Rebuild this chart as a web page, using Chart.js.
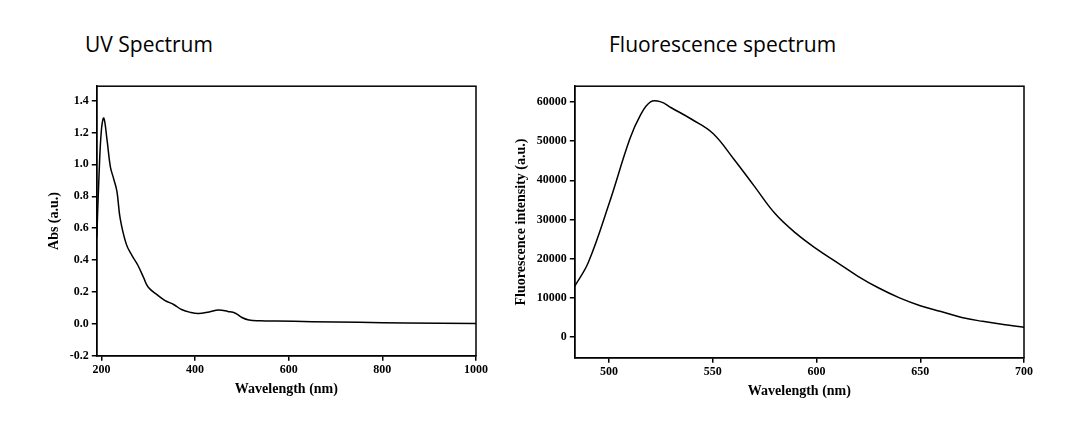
<html>
<head>
<script src="https://cdn.jsdelivr.net/npm/chart.js"></script>
<style>
body { margin:0; background:#fff; width:1089px; height:442px; position:relative; overflow:hidden; }
.t { position:absolute; font-family:"Open Sans", sans-serif; font-size:21px; color:#000; }
.c { position:absolute; }
</style>
</head>
<body>
<div class="t" style="left:85px;top:30px">UV Spectrum</div>
<div class="t" style="left:609px;top:30px">Fluorescence spectrum</div>
<div class="c" style="left:30px;top:76px;width:460px;height:340px"><canvas id="uv"></canvas></div>
<div class="c" style="left:505px;top:76px;width:530px;height:340px"><canvas id="fl"></canvas></div>
<script>
var uvWave = [190, 195, 200, 205, 212, 219, 226, 233, 240, 253, 265, 278, 290, 300, 320, 335, 355, 371, 390, 407, 430, 450, 470, 486, 500, 515, 540, 573, 650, 750, 850, 1000];
var uvAbs  = [0.54, 0.95, 1.22, 1.29, 1.15, 0.985, 0.91, 0.83, 0.66, 0.50, 0.43, 0.366, 0.29, 0.23, 0.18, 0.148, 0.12, 0.09, 0.072, 0.065, 0.075, 0.087, 0.078, 0.067, 0.04, 0.024, 0.02, 0.018, 0.014, 0.01, 0.006, 0.003];
var uvTicksX = [200, 400, 600, 800, 1000];
var uvTicksY = [-0.2, 0.0, 0.2, 0.4, 0.6, 0.8, 1.0, 1.2, 1.4];

var flWave = [483.5, 490, 500, 510, 515, 520, 525, 530, 540, 550, 560, 570, 580, 590, 600, 610, 620, 630, 640, 650, 660, 670, 680, 690, 700];
var flInt  = [13000, 19000, 34000, 50500, 56500, 60000, 60000, 58500, 55500, 52000, 45500, 38500, 31500, 26500, 22500, 19000, 15500, 12500, 10000, 8000, 6500, 5000, 4000, 3200, 2500];
var flTicksX = [500, 550, 600, 650, 700];
var flTicksY = [0, 10000, 20000, 30000, 40000, 50000, 60000];

var serif = { family: "'Liberation Serif', 'Times New Roman', serif", weight: 'bold', size: 12 };
var boxPlugin = {
    id: 'box',
    afterDraw: function(chart) {
        var a = chart.chartArea, ctx = chart.ctx;
        ctx.save();
        ctx.strokeStyle = '#000';
        ctx.lineWidth = 1.5;
        ctx.strokeRect(a.left, a.top, a.right - a.left, a.bottom - a.top);
        ctx.restore();
    }
};

function makeChart(id, xs, ys, xmin, xmax, ymin, ymax, tx, ty, xTitle, yTitle, fmt, pad) {
    var pts = xs.map(function(x, i) { return { x: x, y: ys[i] }; });
    return new Chart(document.getElementById(id), {
        type: 'line',
        data: { datasets: [{ data: pts, borderColor: '#000', borderWidth: 1.5, pointRadius: 0, tension: 0.4, fill: false }] },
        options: {
            responsive: true, maintainAspectRatio: false, animation: false,
            layout: { padding: pad },
            plugins: { legend: { display: false }, tooltip: { enabled: false } },
            scales: {
                x: {
                    type: 'linear', min: xmin, max: xmax,
                    afterBuildTicks: function(s) { s.ticks = tx.map(function(v) { return { value: v }; }); },
                    grid: { drawOnChartArea: false, color: '#000', tickLength: 5, lineWidth: 1.5 },
                    border: { color: '#000', width: 1.5 },
                    ticks: { color: '#000', font: serif, maxRotation: 0, padding: 2, callback: function(v) { return String(v); } },
                    title: { display: true, text: xTitle, color: '#000', font: { family: serif.family, weight: 'bold', size: 14 }, padding: 2 }
                },
                y: {
                    min: ymin, max: ymax,
                    afterBuildTicks: function(s) { s.ticks = ty.map(function(v) { return { value: v }; }); },
                    grid: { drawOnChartArea: false, color: '#000', tickLength: 5, lineWidth: 1.5 },
                    border: { color: '#000', width: 1.5 },
                    ticks: { color: '#000', font: serif, padding: 3, callback: fmt },
                    title: { display: true, text: yTitle, color: '#000', font: { family: serif.family, weight: 'bold', size: 14 }, padding: 4 }
                }
            }
        },
        plugins: [boxPlugin]
    });
}

makeChart('uv', uvWave, uvAbs, 190, 1000, -0.2, 1.49, uvTicksX, uvTicksY,
    'Wavelength (nm)', 'Abs (a.u.)', function(v) { return v.toFixed(1); },
    { left: 12, right: 8, top: 8, bottom: 16 });
makeChart('fl', flWave, flInt, 483.5, 700, -5300, 64000, flTicksX, flTicksY,
    'Wavelength (nm)', 'Fluorescence intensity (a.u.)', function(v) { return String(v); },
    { left: 4, right: 10, top: 10, bottom: 14 });
</script>
</body>
</html>
